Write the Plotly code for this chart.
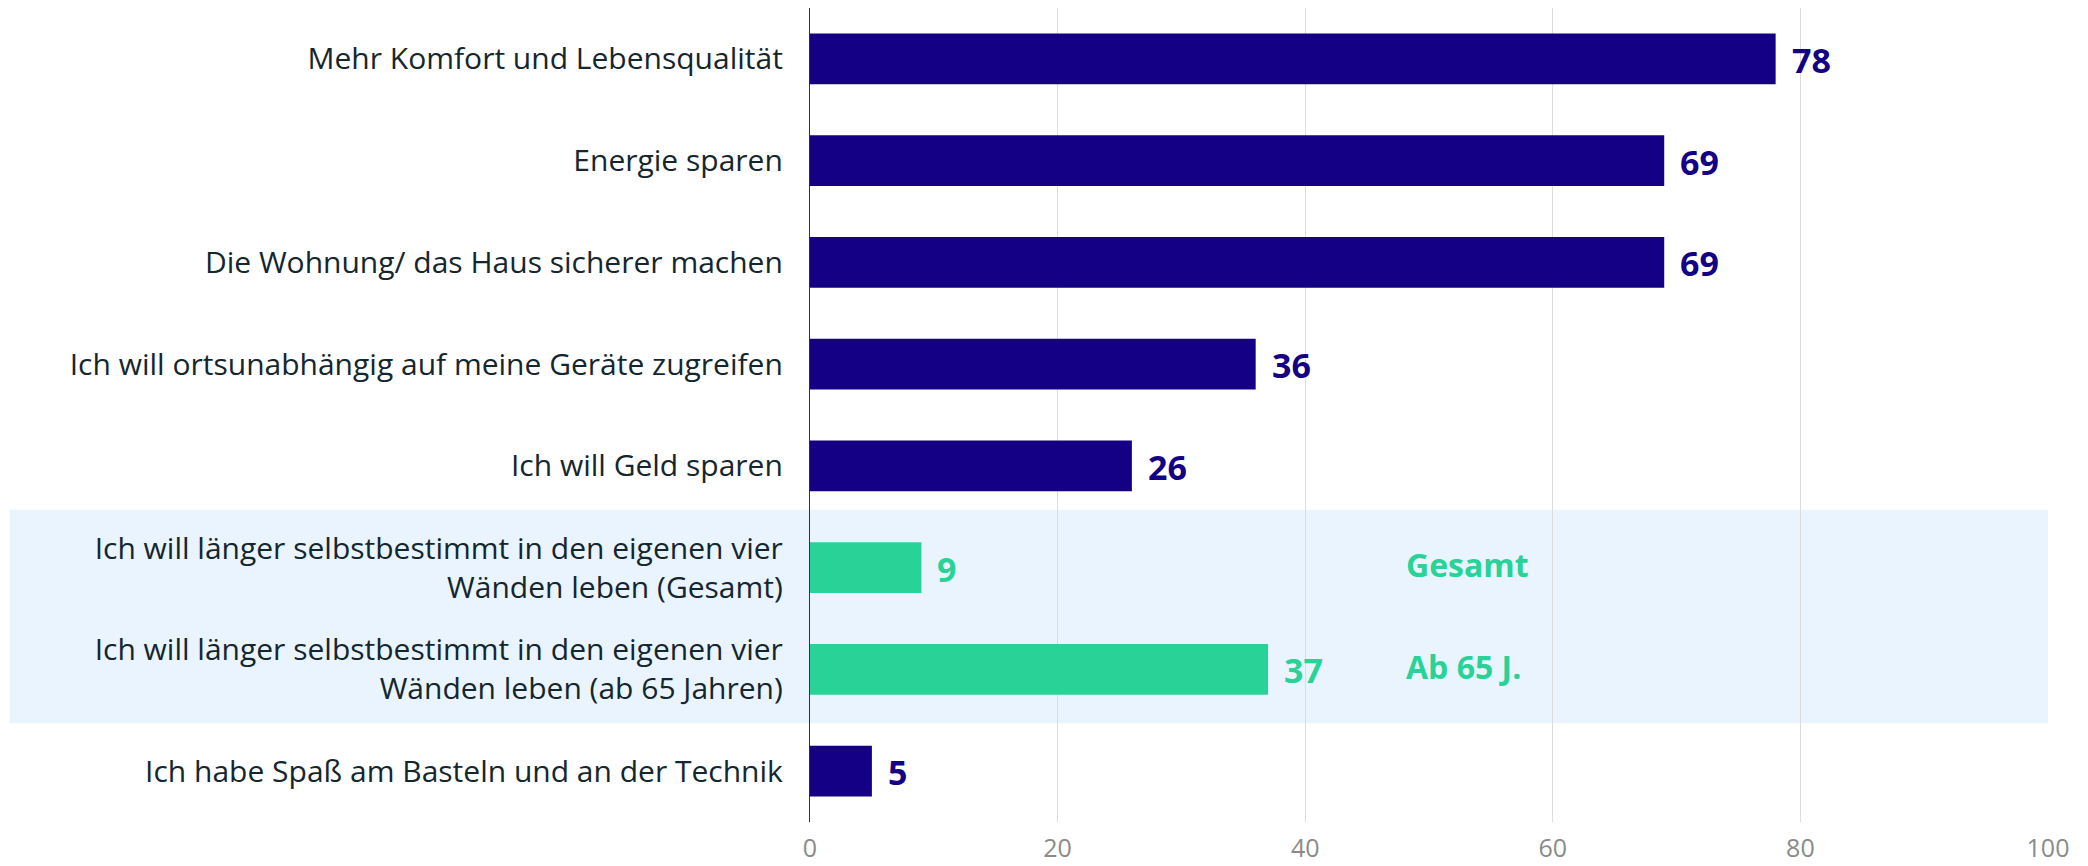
import plotly.graph_objects as go

categories = [
    "Mehr Komfort und Lebensqualität",
    "Energie sparen",
    "Die Wohnung/ das Haus sicherer machen",
    "Ich will ortsunabhängig auf meine Geräte zugreifen",
    "Ich will Geld sparen",
    "Ich will länger selbstbestimmt in den eigenen vier<br>Wänden leben (Gesamt)",
    "Ich will länger selbstbestimmt in den eigenen vier<br>Wänden leben (ab 65 Jahren)",
    "Ich habe Spaß am Basteln und an der Technik",
]
values = [78, 69, 69, 36, 26, 9, 37, 5]
highlight = [False, False, False, False, False, True, True, False]
group_labels = {5: "Gesamt", 6: "Ab 65 J."}
x_ticks = [0, 20, 40, 60, 80, 100]

NAVY = "#140084"
GREEN = "#29D296"
BAND = "#EAF4FE"
TEXT = "#14262e"
FONT = "Open Sans"

colors = [GREEN if h else NAVY for h in highlight]

fig = go.Figure()
fig.add_trace(go.Bar(
    x=values, y=categories, orientation="h",
    marker=dict(color=colors, line=dict(width=0)),
    width=0.5, hoverinfo="skip",
))

annotations = []
for i, (c, v) in enumerate(zip(categories, values)):
    annotations.append(dict(
        x=v, y=c, xref="x", yref="y", text=str(v), showarrow=False,
        xanchor="left", yanchor="middle", xshift=14, yshift=-1,
        font=dict(family=FONT, size=34, color=colors[i], weight="bold"),
    ))
for i, t in group_labels.items():
    annotations.append(dict(
        x=48, y=categories[i], xref="x", yref="y", text=t, showarrow=False,
        xanchor="left", yanchor="middle", yshift=3,
        font=dict(family=FONT, size=32, color=GREEN, weight="bold"),
    ))

fig.update_layout(
    width=2072, height=858,
    margin=dict(l=802, r=32, t=0, b=44),
    paper_bgcolor="white", plot_bgcolor="rgba(0,0,0,0)",
    showlegend=False,
    font=dict(family=FONT, color=TEXT),
    annotations=annotations,
    shapes=[dict(
        type="rect", xref="paper", yref="y",
        x0=-0.6465, x1=1.0, y0=4.43, y1=6.53,
        fillcolor=BAND, line=dict(width=0), layer="below",
    )],
)
fig.update_xaxes(
    range=[0, 100], tickvals=x_ticks, showgrid=True, gridcolor="#dcdcdc",
    gridwidth=1, zeroline=False, showline=False, automargin=False,
    tickfont=dict(family=FONT, size=25, color="#8a8a8a"), ticks="",
    ticklabelstandoff=9, fixedrange=True,
)
fig.update_yaxes(
    categoryorder="array", categoryarray=categories, autorange="reversed",
    showgrid=False, zeroline=False, showline=True, linecolor="#1c3a47",
    linewidth=1.3, ticks="", ticklabelstandoff=20, automargin=False,
    tickfont=dict(family=FONT, size=30, color=TEXT), fixedrange=True,
)

fig.write_html("out.html")
